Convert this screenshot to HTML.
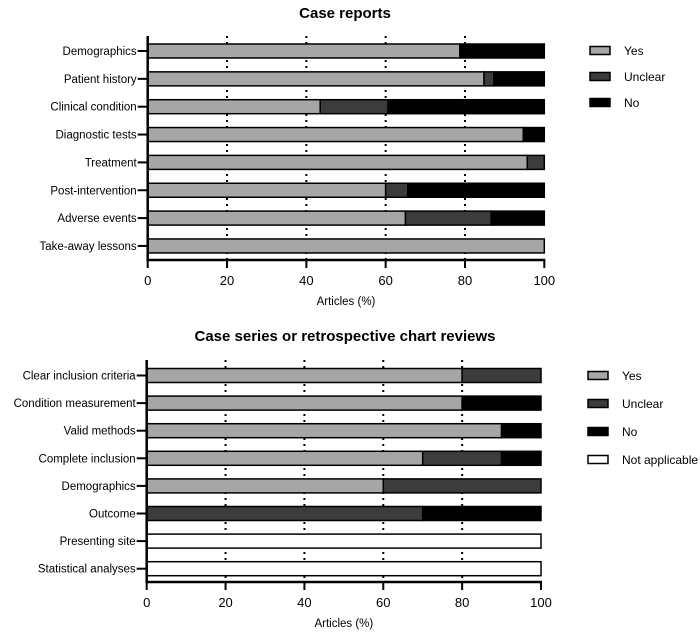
<!DOCTYPE html>
<html><head><meta charset="utf-8"><style>
body{margin:0;background:#fff}
svg{display:block;font-family:"Liberation Sans",sans-serif}
</style></head><body>
<svg id="c" width="700" height="634" viewBox="0 0 700 634"></svg>
<script>
const cats1 = ["Demographics","Patient history","Clinical condition","Diagnostic tests","Treatment","Post-intervention","Adverse events","Take-away lessons"];
const yes1 = [78.7, 84.8, 43.5, 94.7, 95.7, 60, 65, 100];
const unclear1 = [0, 2.5, 17.1, 0, 4.3, 5.6, 21.6, 0];
const no1 = [21.3, 12.7, 39.4, 5.3, 0, 34.4, 13.4, 0];
const cats2 = ["Clear inclusion criteria","Condition measurement","Valid methods","Complete inclusion","Demographics","Outcome","Presenting site","Statistical analyses"];
const yes2 = [80, 80, 90, 70, 60, 0, 0, 0];
const unclear2 = [20, 0, 0, 20, 40, 70, 0, 0];
const no2 = [0, 20, 10, 10, 0, 30, 0, 0];
const na2 = [0, 0, 0, 0, 0, 0, 100, 100];
const ticks = [0, 20, 40, 60, 80, 100];

const NS = "http://www.w3.org/2000/svg";
const svg = document.getElementById('c');
function mk(tag, attrs, parent, txt){
  const e = document.createElementNS(NS, tag);
  for (const k in attrs) e.setAttribute(k, attrs[k]);
  if (txt !== undefined) e.textContent = txt;
  (parent || svg).appendChild(e);
  return e;
}
const colors = {yes:"#a6a6a6", unclear:"#3c3c3c", no:"#000", na:"#fff"};

function chart(o){
  const g = mk('g', {});
  
  
  const x = v => o.x0 + (o.x1 - o.x0) * v / 100;
  const y = i => o.yc0 + o.step * i;
  const t = mk('text', {x: 345, y: o.titleY, 'text-anchor':'middle', 'font-size':15, 'font-weight':'bold'}, g, o.title);
  
  
  // gridlines
  ticks.slice(1, 5).forEach(v => {
    const l = mk('line', {x1:x(v), x2:x(v), y1:o.top, y2:o.axisY, stroke:'#000', 'stroke-width':2, 'stroke-dasharray':'2,4'}, g);
    
    
  });
  o.cats.forEach((c, i) => {
    let acc = 0;
    o.series.forEach(s => {
      const v = s.vals[i];
      if (v > 0) {
        const r = mk('rect', {x:x(acc), y:y(i)-7, width:x(acc+v)-x(acc), height:14, fill:colors[s.key], stroke:'#000', 'stroke-width':1.5}, g);
        
        
      }
      acc += v;
    });
    mk('line', {x1:o.x0-10, x2:o.x0, y1:y(i), y2:y(i), stroke:'#000', 'stroke-width':2}, g);
    const lb = mk('text', {x:o.x0-11, y:y(i)+4, 'text-anchor':'end', 'font-size':11.5}, g, c);
    
    
  });
  // axes
  mk('line', {x1:o.x0, x2:o.x0, y1:o.top, y2:o.axisY+1, stroke:'#000', 'stroke-width':2.5}, g);
  mk('line', {x1:o.x0-1, x2:o.x1+1, y1:o.axisY, y2:o.axisY, stroke:'#000', 'stroke-width':2.5}, g);
  ticks.forEach(v => {
    mk('line', {x1:x(v), x2:x(v), y1:o.axisY, y2:o.axisY+8, stroke:'#000', 'stroke-width':2}, g);
    const tl = mk('text', {x:x(v), y:o.axisY+25, 'text-anchor':'middle', 'font-size':13}, g, String(v));
    
    
  });
  const xt = mk('text', {x:(o.x0+o.x1)/2, y:o.axisY+45, 'text-anchor':'middle', 'font-size':11.5}, g, 'Articles (%)');
  
  
  // legend
  o.legend.forEach((L, i) => {
    const ly = o.legY + i * o.legStep;
    const r = mk('rect', {x:o.legX, y:ly-3.5, width:20, height:8, fill:colors[L.key], stroke:'#000', 'stroke-width':1.5}, g);
    
    
    const lt = mk('text', {x:o.legX+34, y:ly+5, 'font-size':12}, g, L.label);
    
    
  });
}
chart({name:'case-reports-chart', title:'Case reports', titleY:18, x0:147.7, x1:544.3, yc0:51, step:27.85, top:36, axisY:260,
  cats:cats1, series:[{key:'yes',vals:yes1},{key:'unclear',vals:unclear1},{key:'no',vals:no1}],
  legX:590, legY:50, legStep:26, legend:[{key:'yes',label:'Yes'},{key:'unclear',label:'Unclear'},{key:'no',label:'No'}]});
chart({name:'case-series-chart', title:'Case series or retrospective chart reviews', titleY:341, x0:146.7, x1:541, yc0:375.5, step:27.6, top:360, axisY:582,
  cats:cats2, series:[{key:'yes',vals:yes2},{key:'unclear',vals:unclear2},{key:'no',vals:no2},{key:'na',vals:na2}],
  legX:588, legY:375, legStep:28, legend:[{key:'yes',label:'Yes'},{key:'unclear',label:'Unclear'},{key:'no',label:'No'},{key:'na',label:'Not applicable'}]});
</script>
</body></html>
